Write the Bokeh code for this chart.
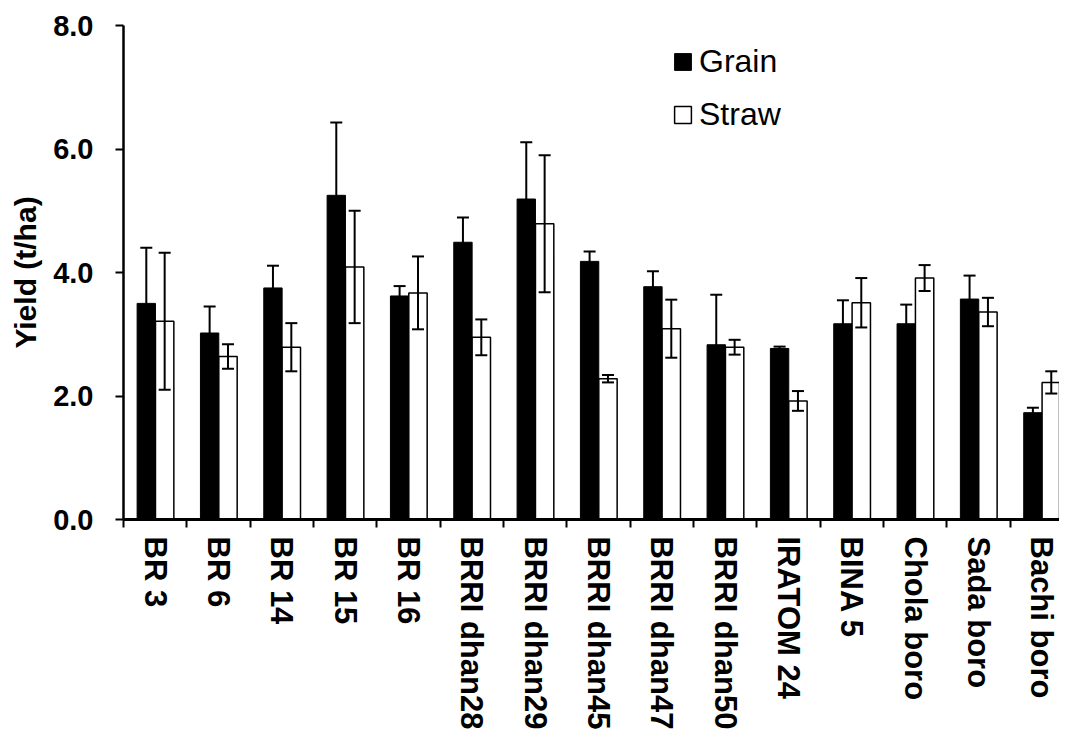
import math
from bokeh.plotting import figure
from bokeh.models import (ColumnDataSource, Range1d, FixedTicker, NumeralTickFormatter,
                          Whisker, TeeHead, Legend, LegendItem)
from bokeh.embed import file_html
from bokeh.resources import INLINE

varieties = ["BR 3", "BR 6", "BR 14", "BR 15", "BR 16", "BRRI dhan28", "BRRI dhan29",
             "BRRI dhan45", "BRRI dhan47", "BRRI dhan50", "IRATOM 24", "BINA 5",
             "Chola boro", "Sada boro", "Bachi boro"]
grain = [3.50, 3.02, 3.75, 5.25, 3.62, 4.49, 5.19, 4.18, 3.77, 2.83, 2.77, 3.17, 3.17, 3.57, 1.73]
grain_err = [0.90, 0.43, 0.36, 1.18, 0.16, 0.40, 0.92, 0.16, 0.25, 0.81, 0.03, 0.38, 0.31, 0.38, 0.08]
straw = [3.21, 2.64, 2.79, 4.09, 3.67, 2.95, 4.79, 2.28, 3.09, 2.79, 1.92, 3.51, 3.91, 3.36, 2.22]
straw_err = [1.11, 0.20, 0.39, 0.91, 0.59, 0.29, 1.11, 0.06, 0.47, 0.12, 0.16, 0.40, 0.21, 0.23, 0.18]
y_ticks = [0, 2, 4, 6, 8]

FONT = "Liberation Sans"
n = len(varieties)
centers = [i + 0.5 for i in range(n)]
BAR_W = 0.29
gx = [c - 0.14 for c in centers]
sx = [c + 0.15 for c in centers]

src_g = ColumnDataSource(dict(x=gx, top=grain,
                              up=[v + e for v, e in zip(grain, grain_err)],
                              lo=[v - e for v, e in zip(grain, grain_err)]))
src_s = ColumnDataSource(dict(x=sx, top=straw,
                              up=[v + e for v, e in zip(straw, straw_err)],
                              lo=[v - e for v, e in zip(straw, straw_err)]))

p = figure(width=1059, height=732, output_backend="svg", toolbar_location=None,
           x_range=Range1d(0, 14.78), y_range=Range1d(0, 8),
           min_border_left=123, min_border_right=0, min_border_top=25, min_border_bottom=212)
p.outline_line_color = None
p.xgrid.visible = False
p.ygrid.visible = False

rg = p.vbar(x="x", top="top", width=BAR_W, bottom=0, source=src_g,
            fill_color="black", line_color="black", line_width=1)
rs = p.vbar(x="x", top="top", width=BAR_W, bottom=0, source=src_s,
            fill_color="white", line_color="black", line_width=1.5)

for src in (src_g, src_s):
    w = Whisker(source=src, base="x", upper="up", lower="lo", line_width=2,
                line_color="black", level="overlay",
                upper_head=TeeHead(size=12, line_width=2, line_color="black"),
                lower_head=TeeHead(size=12, line_width=2, line_color="black"))
    p.add_layout(w)

# x axis: labels at centres, tick marks at boundaries
xa = p.xaxis[0]
xa.ticker = FixedTicker(ticks=centers, minor_ticks=list(range(n + 1)))
xa.major_label_overrides = {c: v for c, v in zip(centers, varieties)}
xa.major_tick_out = 0
xa.major_tick_in = 0
xa.minor_tick_out = 8
xa.minor_tick_in = 0
xa.minor_tick_line_width = 2
xa.minor_tick_line_color = "black"
xa.axis_line_width = 3
xa.axis_line_color = "black"
xa.major_label_orientation = -math.pi / 2
xa.major_label_standoff = 9
xa.major_label_text_font = FONT
xa.major_label_text_font_style = "bold"
xa.major_label_text_font_size = "31px"
xa.major_label_text_color = "black"

ya = p.yaxis[0]
ya.ticker = FixedTicker(ticks=y_ticks)
ya.formatter = NumeralTickFormatter(format="0.0")
ya.major_tick_out = 8
ya.major_tick_in = 0
ya.major_tick_line_width = 2
ya.minor_tick_out = 0
ya.minor_tick_in = 0
ya.axis_line_width = 2.5
ya.axis_line_color = "black"
ya.major_label_standoff = 22
ya.major_label_text_font = FONT
ya.major_label_text_font_style = "bold"
ya.major_label_text_font_size = "29px"
ya.major_label_text_color = "black"
ya.axis_label = "Yield (t/ha)"
ya.axis_label_text_font = FONT
ya.axis_label_text_font_style = "bold"
ya.axis_label_text_font_size = "30px"
ya.axis_label_text_color = "black"
ya.axis_label_standoff = 8

legend = Legend(items=[LegendItem(label="Grain", renderers=[rg]),
                       LegendItem(label="Straw", renderers=[rs])],
                location=(549, 386), padding=0, margin=0, spacing=16,
                glyph_width=21, glyph_height=21, label_height=36, label_standoff=6,
                label_text_font=FONT, label_text_font_size="32px", label_text_color="black",
                background_fill_alpha=0, border_line_alpha=0)
p.add_layout(legend, "center")

open("out.html", "w").write(file_html(p, INLINE))
